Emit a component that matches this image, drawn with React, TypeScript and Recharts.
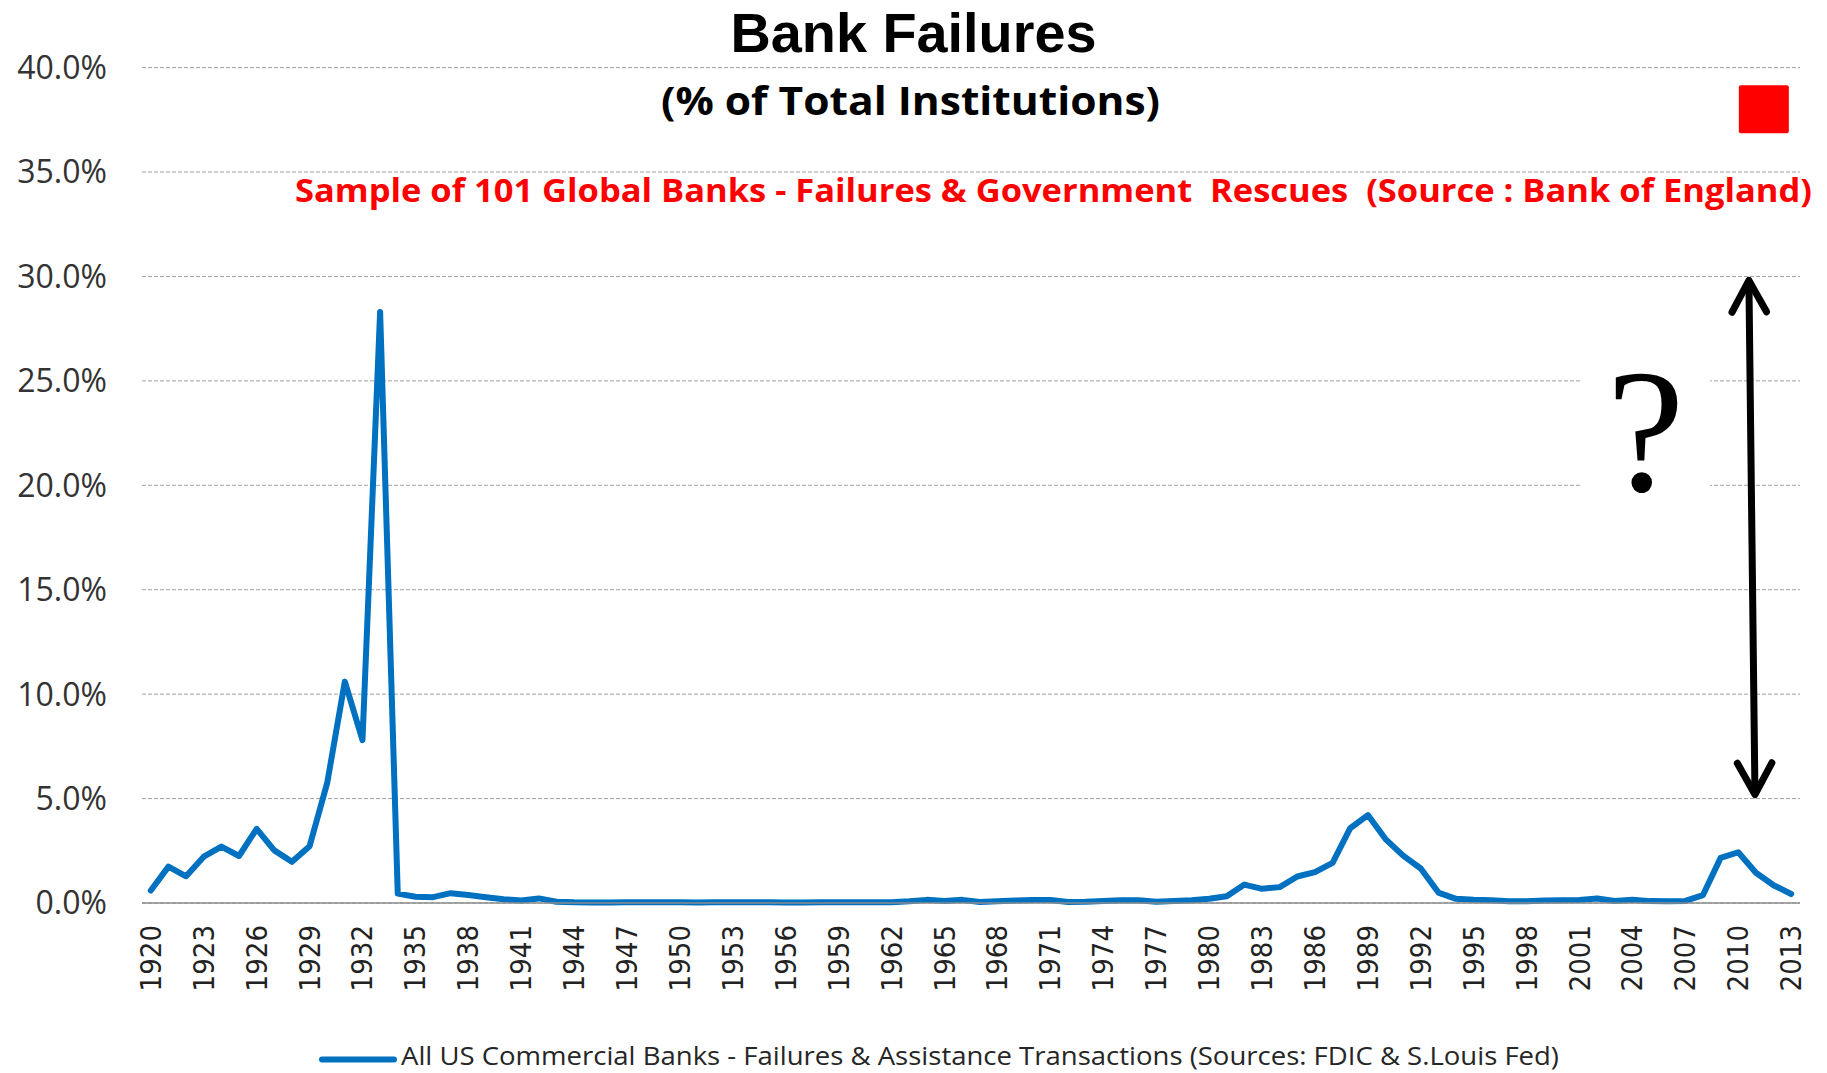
import React from "react";
import {
  ComposedChart,
  Line,
  Scatter,
  XAxis,
  YAxis,
  CartesianGrid,
  Legend,
  ReferenceArea,
  ReferenceLine,
} from "recharts";

const FIRST_YEAR = 1920;

// failures & assistance transactions, % of all US commercial banks (1920..2013)
const usFailureRates = [
  0.6, 1.74, 1.28, 2.22, 2.7, 2.25, 3.55, 2.52, 1.97, 2.72, // 1920s
  5.75, 10.6, 7.8, 28.3, 0.45, 0.3, 0.28, 0.47, 0.38, 0.28, // 1930s
  0.18, 0.12, 0.22, 0.06, 0.03, 0.02, 0.02, 0.03, 0.03, 0.03, // 1940s
  0.03, 0.02, 0.03, 0.03, 0.03, 0.04, 0.02, 0.02, 0.03, 0.03, // 1950s
  0.03, 0.03, 0.04, 0.08, 0.15, 0.1, 0.15, 0.05, 0.08, 0.12, // 1960s
  0.14, 0.14, 0.05, 0.06, 0.1, 0.13, 0.13, 0.06, 0.1, 0.13, // 1970s
  0.2, 0.32, 0.88, 0.68, 0.76, 1.27, 1.48, 1.92, 3.58, 4.21, // 1980s
  3.06, 2.27, 1.65, 0.5, 0.2, 0.15, 0.13, 0.08, 0.08, 0.12, // 1990s
  0.13, 0.14, 0.22, 0.1, 0.15, 0.09, 0.08, 0.1, 0.38, 2.16, // 2000s
  2.43, 1.45, 0.85, 0.43, // 2010-2013
];

const years = usFailureRates.map((_, i) => FIRST_YEAR + i);

// Bank of England sample of 101 global banks
const globalSample = [{ year: 2011.45, value: 38 }];

const yearTicks = [
  1920, 1923, 1926, 1929, 1932, 1935, 1938, 1941, 1944, 1947, 1950, 1953, 1956,
  1959, 1962, 1965, 1968, 1971, 1974, 1977, 1980, 1983, 1986, 1989, 1992, 1995,
  1998, 2001, 2004, 2007, 2010, 2013,
];
const pctTicks = [0, 5, 10, 15, 20, 25, 30, 35, 40];

// annotation: double arrow and "?" box
const arrowSpan = [
  { year: 2010.6, value: 30 },
  { year: 2010.95, value: 5 },
];
const questionYears = [2001.1, 2008.4];
const questionLevels = [17, 28];

const data = years.map((year, i) => ({ year, rate: usFailureRates[i] }));

const BLUE = "#0070C0";
const SANS = "'Open Sans', 'Liberation Sans', sans-serif";

function YearTick(props: any) {
  const { x, y, payload } = props;
  const ty = y + 22;
  return (
    <text
      x={x}
      y={ty}
      transform={`rotate(-90 ${x} ${ty})`}
      textAnchor="end"
      dominantBaseline="central"
      fontFamily="'DejaVu Sans Condensed', 'DejaVu Sans', sans-serif"
      fontSize={29}
      fill="#222"
    >
      {payload.value}
    </text>
  );
}

function DoubleArrow(props: any) {
  const { x1, y1, x2, y2 } = props;
  const ang = Math.atan2(y2 - y1, x2 - x1);
  const len = 36;
  const spread = 0.5;
  const head = (tx: number, ty: number, a: number) => {
    const ax = tx + len * Math.cos(a + spread);
    const ay = ty + len * Math.sin(a + spread);
    const bx = tx + len * Math.cos(a - spread);
    const by = ty + len * Math.sin(a - spread);
    return `M${ax},${ay} L${tx},${ty} L${bx},${by}`;
  };
  const sx = Math.cos(ang) * 4;
  const sy = Math.sin(ang) * 4;
  const t1x = x1 + sx, t1y = y1 + sy;
  const t2x = x2 - sx, t2y = y2 - sy;
  return (
    <g stroke="#000" strokeWidth={7} strokeLinecap="round" strokeLinejoin="round" fill="none">
      <line x1={t1x + sx} y1={t1y + sy} x2={t2x - sx} y2={t2y - sy} />
      <path d={head(t1x, t1y, ang)} />
      <path d={head(t2x, t2y, ang + Math.PI)} />
    </g>
  );
}

function QuestionBox(props: any) {
  const { x, y, width, height } = props;
  return (
    <g>
      <rect x={x} y={y} width={width} height={height} fill="#fff" />
      <text
        x={x + width / 2}
        y={y + height * 0.75}
        textAnchor="middle"
        fontFamily="'Liberation Serif', 'DejaVu Serif', serif"
        fontSize={175}
        fill="#000"
      >
        ?
      </text>
    </g>
  );
}

function RedSquare(props: any) {
  const { cx, cy } = props;
  return <rect x={cx - 25} y={cy - 24} width={50} height={48} rx={2} fill="#FF0000" />;
}

function LegendRow() {
  return (
    <div style={{ height: 28 }}>
      <svg width={1800} height={28} style={{ display: "block", overflow: "visible" }}>
        <line x1={322} y1={14.5} x2={394} y2={14.5} stroke={BLUE} strokeWidth={6} strokeLinecap="round" />
        <text
          x={401}
          y={20}
          fontFamily={SANS}
          fontSize={25}
          fill="#262626"
          textLength={1158}
          lengthAdjust="spacingAndGlyphs"
        >
          All US Commercial Banks - Failures &amp; Assistance Transactions (Sources: FDIC &amp; S.Louis Fed)
        </text>
      </svg>
    </div>
  );
}

export default function App() {
  return (
    <div style={{ position: "absolute", left: 0, top: 0, width: 1827, height: 1073, background: "#fff" }}>
      <ComposedChart
        width={1827}
        height={1073}
        data={data}
        margin={{ top: 67.6, right: 27, bottom: 0, left: 0 }}
      >
        <CartesianGrid vertical={false} stroke="#a0a0a0" strokeDasharray="4 2" />
        <ReferenceArea
          x1={questionYears[0]}
          x2={questionYears[1]}
          y1={questionLevels[0]}
          y2={questionLevels[1]}
          shape={(p: any) => <QuestionBox {...p} />}
        />
        <XAxis
          dataKey="year"
          type="number"
          domain={[1919.5, 2013.5]}
          ticks={yearTicks}
          interval={0}
          allowDataOverflow
          height={142}
          tickSize={0}
          tickMargin={0}
          tickLine={false}
          axisLine={{ stroke: "#8c8c8c", strokeWidth: 1.5 }}
          tick={(p: any) => <YearTick {...p} />}
        />
        <YAxis
          type="number"
          domain={[0, 40]}
          ticks={pctTicks}
          interval={0}
          width={142}
          tickLine={false}
          axisLine={false}
          tickSize={0}
          tickMargin={35}
          tickFormatter={(v: number) => `${v.toFixed(1)}%`}
          tick={{ fontFamily: SANS, fontSize: 32, fill: "#333" }}
        />
        <Legend verticalAlign="bottom" align="left" content={() => <LegendRow />} />
        <Line
          type="linear"
          dataKey="rate"
          name="All US Commercial Banks - Failures & Assistance Transactions (Sources: FDIC & S.Louis Fed)"
          stroke={BLUE}
          strokeWidth={6}
          strokeLinejoin="round"
          strokeLinecap="round"
          dot={false}
          activeDot={false}
          isAnimationActive={false}
        />
        <Scatter
          data={globalSample}
          dataKey="value"
          name="Sample of 101 Global Banks"
          shape={(p: any) => <RedSquare {...p} />}
          isAnimationActive={false}
        />
        <ReferenceLine
          segment={[
            { x: arrowSpan[0].year, y: arrowSpan[0].value },
            { x: arrowSpan[1].year, y: arrowSpan[1].value },
          ]}
          stroke="#000"
          shape={(p: any) => <DoubleArrow {...p} />}
        />
      </ComposedChart>
      <svg
        width={1827}
        height={1073}
        style={{ position: "absolute", left: 0, top: 0, pointerEvents: "none" }}
      >
        <text
          x={913.5}
          y={52}
          textAnchor="middle"
          fontFamily="'Liberation Sans', Arial, sans-serif"
          fontWeight={700}
          fontSize={55}
          fill="#000"
          textLength={366}
          lengthAdjust="spacingAndGlyphs"
        >
          Bank Failures
        </text>
        <text
          x={910.5}
          y={115}
          textAnchor="middle"
          fontFamily={SANS}
          fontWeight={700}
          fontSize={40}
          fill="#000"
          textLength={499}
          lengthAdjust="spacingAndGlyphs"
        >
          (% of Total Institutions)
        </text>
        <text
          x={295}
          y={202}
          fontFamily={SANS}
          fontWeight={700}
          fontSize={33}
          fill="#FF0000"
          textLength={1517}
          lengthAdjust="spacingAndGlyphs"
          style={{ whiteSpace: "pre" }}
        >
          Sample of 101 Global Banks - Failures &amp; Government  Rescues  (Source : Bank of England)
        </text>
      </svg>
    </div>
  );
}
